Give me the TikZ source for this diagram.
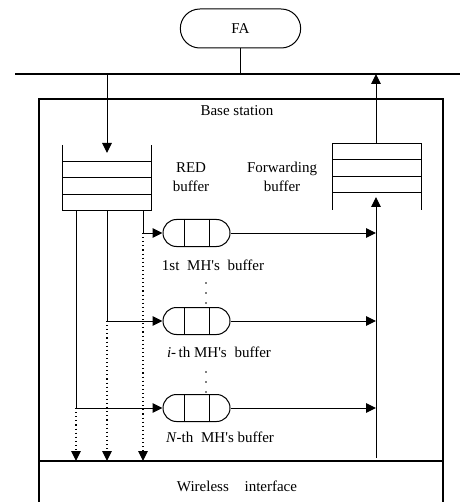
\documentclass[tikz,border=0pt]{standalone}
\usepackage{fontspec}
\setmainfont{Liberation Serif}
\newfontfamily\plainserif{Liberation Serif}
\newcommand{\apos}{{\plainserif'}}
\usetikzlibrary{shapes.misc,arrows.meta}
\begin{document}
\begin{tikzpicture}[x=1pt,y=-1pt, font=\fontsize{15}{19}\selectfont,
 ln/.style={line width=1pt},
 boxln/.style={line width=1.4pt},
 tip/.style={-{Triangle[width=9.5pt,length=10pt]}},
 dots/.style={line width=1.1pt, dash pattern=on 1.1pt off 3pt},
 mh/.style={draw, line width=1pt, rounded rectangle, minimum width=67pt, minimum height=27pt, inner sep=0pt}]
\useasboundingbox (0,0) rectangle (460,502);
% FA and bus
\node[draw, rounded rectangle, line width=1pt, minimum width=127pt, minimum height=39pt] (fa) at (240.5,28.5) {FA};
\coordinate (busL) at (15,74);
\coordinate (busR) at (460,74);
\draw[boxln] (busL) -- (busR);
\draw[ln] (fa.south) -- (fa.south |- busL);
% base station box
\coordinate (bsTL) at (39,99);
\coordinate (bsTR) at (443,99);
\coordinate (bsBL) at (39,502);
\coordinate (bsBR) at (443,502);
\draw[boxln] (bsBL) -- (bsTL) -- (bsTR) -- (bsBR);
\coordinate (wiL) at (39,461);
\coordinate (wiR) at (443,461);
\draw[boxln] (wiL) -- (wiR);
\node (bs) at (237,111) {Base station};
\node (wi) at (237,486) {Wireless\hspace{12pt} interface};
% RED buffer
\draw[ln] (62,145) -- (62,211) -- (151,211) -- (151,145);
\foreach \y in {162,178,195} \draw[ln] (62,\y) -- (151,\y);
\node[align=center] (redl) at (191,177) {RED\\buffer};
\coordinate (busA) at (107,74);
\coordinate (redin) at (107,153);
\draw[ln,tip] (busA) -- (redin);
% Forwarding buffer
\draw[ln] (332,210) -- (332,144) -- (421,144) -- (421,210);
\foreach \y in {160,177,193} \draw[ln] (332,\y) -- (421,\y);
\node[align=center] (fwl) at (282,177) {Forwarding\\buffer};
\coordinate (fwout) at (376,144);
\coordinate (fwin) at (376,197);
\coordinate (colB) at (376,458);
\draw[ln,tip] (fwout) -- (fwout |- busL);
\draw[ln,tip] (colB) -- (fwin);
% MH buffers
\node[mh] (mh1) at (196.5,233) {};
\node[mh] (mh2) at (196.5,321) {};
\node[mh] (mh3) at (196.5,408) {};
\foreach \m in {mh1,mh2,mh3} {
  \draw[ln] ([xshift=-12.5pt]\m.north) -- ([xshift=-12.5pt]\m.south);
  \draw[ln] ([xshift=12.5pt]\m.north) -- ([xshift=12.5pt]\m.south);
  \draw[ln,tip] (\m.east) -- (\m.east -| colB);
}
\node (l1) at (213,265) {1st\hspace{4pt} MH\apos s\hspace{4pt} buffer};
\node (l2) at (219,352) {\textit{i}-\,th MH\apos s\hspace{4pt} buffer};
\node (l3) at (220,437) {\textit{N}-th\hspace{4pt} MH\apos s buffer};
\foreach \y in {283,293,303,372,382,392} \fill (206,\y) circle (0.9pt);
% feeders
\coordinate (f1) at (143,211);
\coordinate (f2) at (107,211);
\coordinate (f3) at (76,211);
\draw[ln,tip] (f1) |- (mh1.west);
\draw[ln,tip] (f2) |- (mh2.west);
\draw[ln,tip] (f3) |- (mh3.west);
\draw[dots,tip] (f1 |- mh1.west) -- (f1 |- wiL);
\draw[dots,tip] (f2 |- mh2.west) -- (f2 |- wiL);
\draw[dots,tip] (f3 |- mh3.west) -- (f3 |- wiL);
\end{tikzpicture}
\end{document}
